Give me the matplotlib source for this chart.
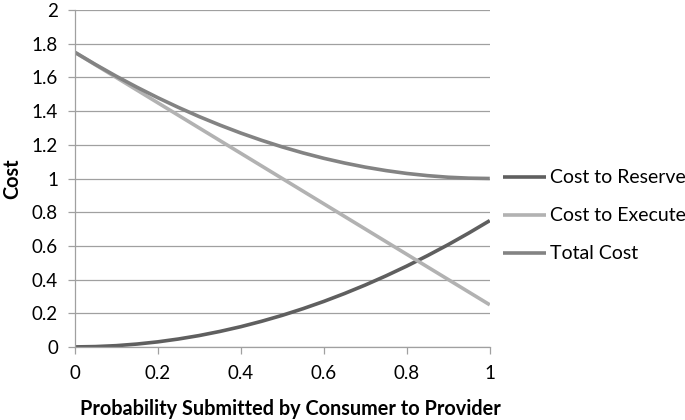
import matplotlib
matplotlib.use("Agg")
import matplotlib.pyplot as plt

plt.rcParams['font.family'] = ['Lato', 'DejaVu Sans']

prob = [0.0, 0.05, 0.1, 0.15, 0.2, 0.25, 0.3, 0.35, 0.4, 0.45, 0.5,
        0.55, 0.6, 0.65, 0.7, 0.75, 0.8, 0.85, 0.9, 0.95, 1.0]
cost_reserve = [0.0, 0.002, 0.0075, 0.017, 0.03, 0.047, 0.0675, 0.092, 0.12, 0.152, 0.1875,
                0.227, 0.27, 0.317, 0.3675, 0.422, 0.48, 0.542, 0.6075, 0.677, 0.75]
cost_execute = [1.75, 1.675, 1.6, 1.525, 1.45, 1.375, 1.3, 1.225, 1.15, 1.075, 1.0,
                0.925, 0.85, 0.775, 0.7, 0.625, 0.55, 0.475, 0.4, 0.325, 0.25]
total_cost = [1.75, 1.677, 1.6075, 1.542, 1.48, 1.422, 1.3675, 1.317, 1.27, 1.227, 1.1875,
              1.152, 1.12, 1.092, 1.0675, 1.047, 1.03, 1.017, 1.0075, 1.002, 1.0]

series_names = ["Cost to Reserve", "Cost to Execute", "Total Cost"]
colors = ["#5f5f5f", "#b2b2b2", "#838383"]

fig = plt.figure(figsize=(6.85, 4.2), dpi=100)
ax = fig.add_axes([0.109, 0.174, 0.606, 0.802])

for ys, name, c in zip([cost_reserve, cost_execute, total_cost], series_names, colors):
    ax.plot(prob, ys, color=c, lw=2.6, label=name, solid_capstyle='butt')

ax.set_xlim(0, 1)
ax.set_ylim(0, 2)
ax.set_xticks([0, 0.2, 0.4, 0.6, 0.8, 1])
ax.set_xticklabels(["0", "0.2", "0.4", "0.6", "0.8", "1"])
ax.set_yticks([0, 0.2, 0.4, 0.6, 0.8, 1, 1.2, 1.4, 1.6, 1.8, 2])
ax.set_yticklabels(["0", "0.2", "0.4", "0.6", "0.8", "1", "1.2", "1.4", "1.6", "1.8", "2"])
ax.grid(axis='y', color='#a0a0a0', lw=0.9)
ax.set_axisbelow(True)
for s in ['top', 'right']:
    ax.spines[s].set_visible(False)
for s in ['left', 'bottom']:
    ax.spines[s].set_color('#a0a0a0')
    ax.spines[s].set_linewidth(0.9)
ax.tick_params(axis='both', colors='#a0a0a0', length=5, width=0.9, labelsize=13.5, labelcolor='black')
ax.tick_params(axis='x', pad=8)
ax.tick_params(axis='y', pad=7)

ax.set_xlabel("Probability Submitted by Consumer to Provider", fontsize=14.3, fontweight='bold', labelpad=12)
ax.xaxis.label.set_x(0.52)
ax.set_ylabel("Cost", fontsize=14.3, fontweight='bold', labelpad=7)

leg = ax.legend(loc='center left', bbox_to_anchor=(1.031, 0.389), frameon=False,
                fontsize=14, handlelength=2.25, handletextpad=0.2, labelspacing=1.08,
                borderaxespad=0, borderpad=0)

fig.savefig("out.png", dpi=100)
